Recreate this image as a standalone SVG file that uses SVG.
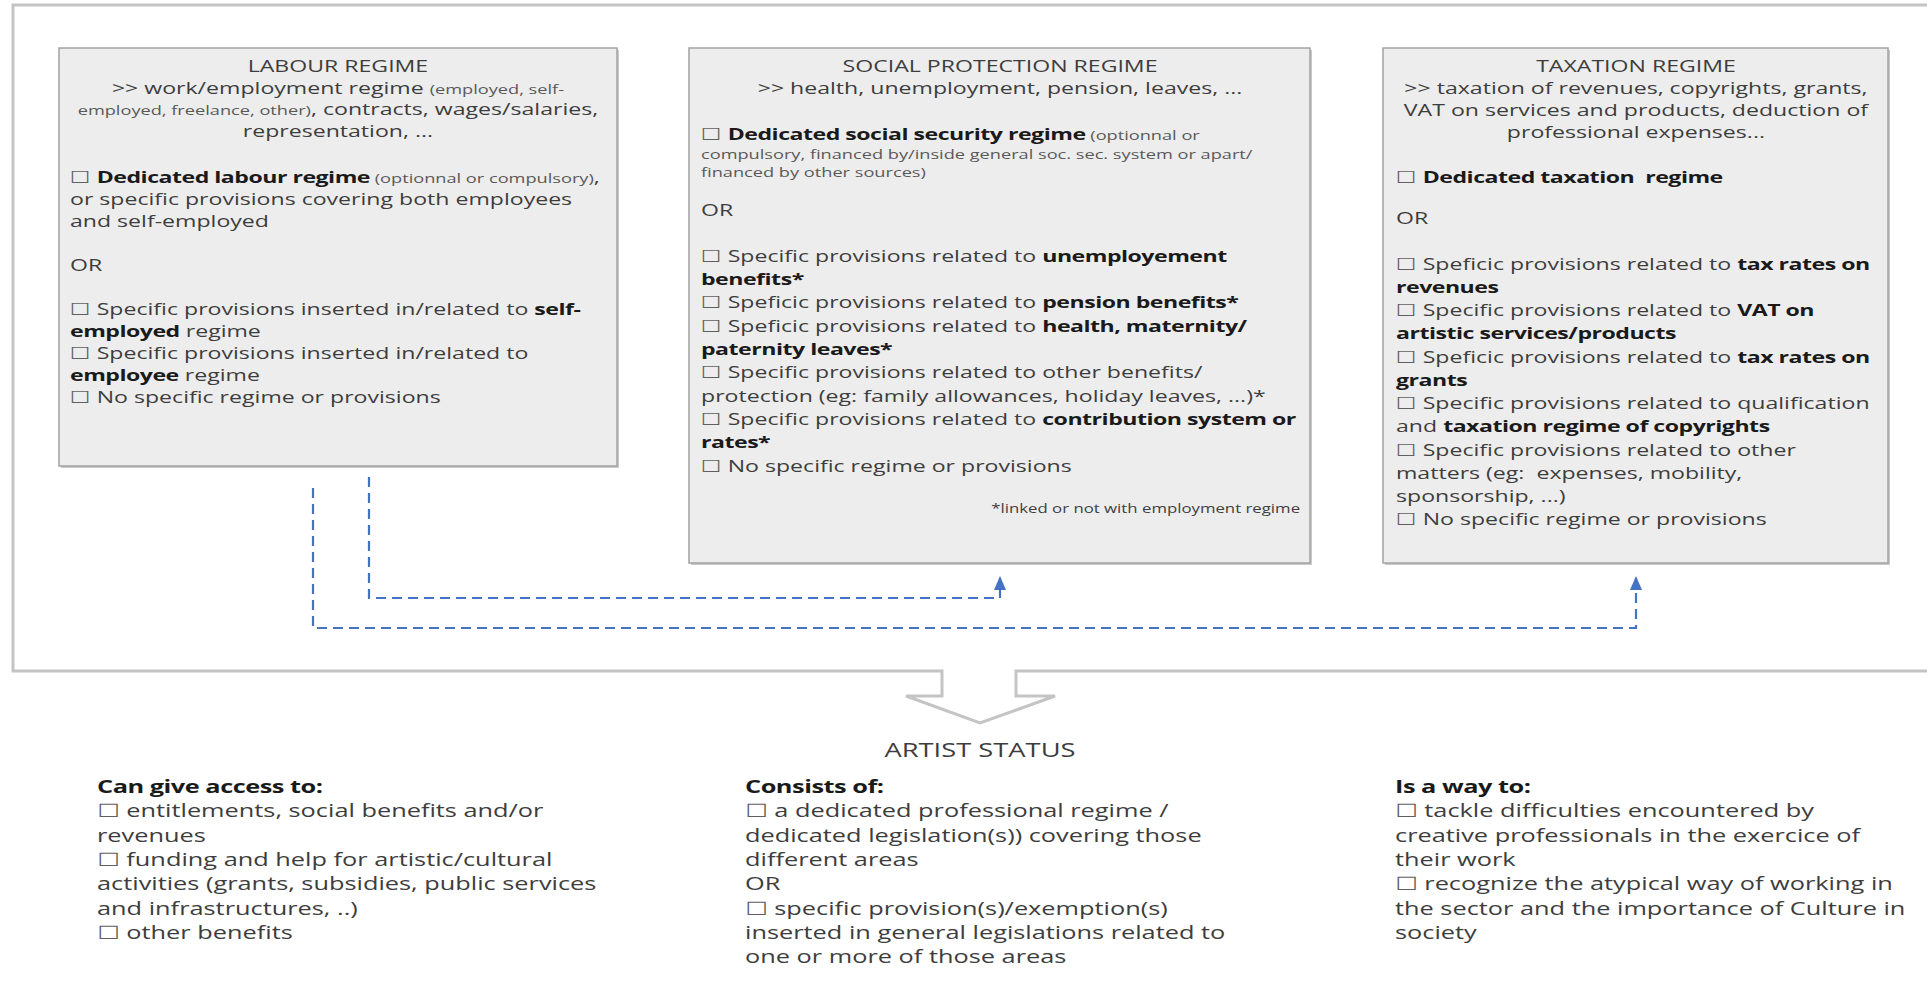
<svg xmlns="http://www.w3.org/2000/svg" width="1927" height="981" viewBox="0 0 1927 981">
<defs>
<style>
.t{font-family:"Open Sans","Liberation Sans",sans-serif;font-size:16.5px;fill:#3d3d3d;white-space:pre}
.b{font-weight:bold;fill:#1a1a1a;letter-spacing:-0.35px}
.s{font-size:13px;fill:#595959}
.cb{font-family:"DejaVu Sans",sans-serif;fill:#606060}
.bt{font-size:18.5px}
.fn{font-size:12px;fill:#404040}
.box{fill:#ededed;stroke:#a3a3a3;stroke-width:1.5}
.sh{fill:#c9c9c9}
.con{fill:none;stroke:#4472c4;stroke-width:2.2;stroke-dasharray:10 6}
</style>
<marker id="ah" markerUnits="userSpaceOnUse" markerWidth="16" markerHeight="16" refX="8" refY="2" orient="0" viewBox="0 0 16 16">
<path d="M8 0 L14 14 L2 14 Z" fill="#4472c4"/>
</marker>
</defs>
<rect width="1927" height="981" fill="#ffffff"/>

<g id="frame">
<path d="M942 671 L13 671 L13 5 L1940 5 L1940 671 L1016 671 L1016 696 L1055 696 L980 723 L906 696 L942 696 Z" fill="#ffffff" stroke="#c4c4c4" stroke-width="3"/>
</g>

<g id="labour">
<rect class="sh" x="61" y="50" width="558" height="418"/>
<rect class="box" x="59" y="48" width="558" height="418"/>
<g transform="translate(70 0) scale(1.4 1)">
<text class="t" x="191.4" y="72" text-anchor="middle">LABOUR REGIME</text>
<text class="t" x="191.4" y="94" text-anchor="middle">&gt;&gt; work/employment regime <tspan class="s">(employed, self-</tspan></text>
<text class="t" x="191.4" y="115" text-anchor="middle"><tspan class="s">employed, freelance, other)</tspan>, contracts, wages/salaries,</text>
<text class="t" x="191.4" y="137" text-anchor="middle">representation, ...</text>
<text class="t" x="0" y="183"><tspan class="cb">☐</tspan> <tspan class="b">Dedicated labour regime</tspan><tspan class="s"> (optionnal or compulsory)</tspan>,</text>
<text class="t" x="0" y="205">or specific provisions covering both employees</text>
<text class="t" x="0" y="227">and self-employed</text>
<text class="t" x="0" y="271">OR</text>
<text class="t" x="0" y="315"><tspan class="cb">☐</tspan> Specific provisions inserted in/related to <tspan class="b">self-</tspan></text>
<text class="t" x="0" y="337"><tspan class="b">employed</tspan> regime</text>
<text class="t" x="0" y="359"><tspan class="cb">☐</tspan> Specific provisions inserted in/related to</text>
<text class="t" x="0" y="381"><tspan class="b">employee</tspan> regime</text>
<text class="t" x="0" y="403"><tspan class="cb">☐</tspan> No specific regime or provisions</text>
</g>
</g>

<g id="social">
<rect class="sh" x="691" y="50" width="621" height="515"/>
<rect class="box" x="689" y="48" width="621" height="515"/>
<g transform="translate(701 0) scale(1.4 1)">
<text class="t" x="213.6" y="72" text-anchor="middle">SOCIAL PROTECTION REGIME</text>
<text class="t" x="213.6" y="94" text-anchor="middle">&gt;&gt; health, unemployment, pension, leaves, ...</text>
<text class="t" x="0" y="140"><tspan class="cb">☐</tspan> <tspan class="b">Dedicated social security regime</tspan><tspan class="s"> (optionnal or</tspan></text>
<text class="t s" x="0" y="159">compulsory, financed by/inside general soc. sec. system or apart/</text>
<text class="t s" x="0" y="177">financed by other sources)</text>
<text class="t" x="0" y="216">OR</text>
<text class="t" x="0" y="262"><tspan class="cb">☐</tspan> Specific provisions related to <tspan class="b">unemployement</tspan></text>
<text class="t" x="0" y="285"><tspan class="b">benefits*</tspan></text>
<text class="t" x="0" y="308"><tspan class="cb">☐</tspan> Speficic provisions related to <tspan class="b">pension benefits*</tspan></text>
<text class="t" x="0" y="332"><tspan class="cb">☐</tspan> Speficic provisions related to <tspan class="b">health, maternity/</tspan></text>
<text class="t" x="0" y="355"><tspan class="b">paternity leaves*</tspan></text>
<text class="t" x="0" y="378"><tspan class="cb">☐</tspan> Specific provisions related to other benefits/</text>
<text class="t" x="0" y="402">protection (eg: family allowances, holiday leaves, ...)*</text>
<text class="t" x="0" y="425"><tspan class="cb">☐</tspan> Specific provisions related to <tspan class="b">contribution system or</tspan></text>
<text class="t" x="0" y="448"><tspan class="b">rates*</tspan></text>
<text class="t" x="0" y="472"><tspan class="cb">☐</tspan> No specific regime or provisions</text>
<text class="t fn" x="427.9" y="513" text-anchor="end">*linked or not with employment regime</text>
</g>
</g>

<g id="taxation">
<rect class="sh" x="1385" y="50" width="505" height="515"/>
<rect class="box" x="1383" y="48" width="505" height="515"/>
<g transform="translate(1396 0) scale(1.4 1)">
<text class="t" x="171.4" y="72" text-anchor="middle">TAXATION REGIME</text>
<text class="t" x="171.4" y="94" text-anchor="middle">&gt;&gt; taxation of revenues, copyrights, grants,</text>
<text class="t" x="171.4" y="116" text-anchor="middle">VAT on services and products, deduction of</text>
<text class="t" x="171.4" y="138" text-anchor="middle">professional expenses...</text>
<text class="t" x="0" y="183"><tspan class="cb">☐</tspan> <tspan class="b">Dedicated taxation  regime</tspan></text>
<text class="t" x="0" y="224">OR</text>
<text class="t" x="0" y="270"><tspan class="cb">☐</tspan> Speficic provisions related to <tspan class="b">tax rates on</tspan></text>
<text class="t" x="0" y="293"><tspan class="b">revenues</tspan></text>
<text class="t" x="0" y="316"><tspan class="cb">☐</tspan> Specific provisions related to <tspan class="b">VAT on</tspan></text>
<text class="t" x="0" y="339"><tspan class="b">artistic services/products</tspan></text>
<text class="t" x="0" y="363"><tspan class="cb">☐</tspan> Speficic provisions related to <tspan class="b">tax rates on</tspan></text>
<text class="t" x="0" y="386"><tspan class="b">grants</tspan></text>
<text class="t" x="0" y="409"><tspan class="cb">☐</tspan> Specific provisions related to qualification</text>
<text class="t" x="0" y="432">and <tspan class="b">taxation regime of copyrights</tspan></text>
<text class="t" x="0" y="456"><tspan class="cb">☐</tspan> Specific provisions related to other</text>
<text class="t" x="0" y="479">matters (eg:  expenses, mobility,</text>
<text class="t" x="0" y="502">sponsorship, ...)</text>
<text class="t" x="0" y="525"><tspan class="cb">☐</tspan> No specific regime or provisions</text>
</g>
</g>

<g id="connectors">
<path class="con" d="M369 477 L369 598 L1000 598 L1000 578" marker-end="url(#ah)"/>
<path class="con" d="M313 488 L313 628 L1636 628 L1636 578" marker-end="url(#ah)"/>
</g>

<g id="artist-status">
<g transform="translate(980 0) scale(1.4 1)">
<text class="t" x="0" y="757" text-anchor="middle" style="font-size:19.5px">ARTIST STATUS</text>
</g>
</g>

<g id="access">
<g transform="translate(97 0) scale(1.37 1)">
<text class="t bt" x="0" y="793"><tspan class="b">Can give access to:</tspan></text>
<text class="t bt" x="0" y="817"><tspan class="cb">☐</tspan> entitlements, social benefits and/or</text>
<text class="t bt" x="0" y="842">revenues</text>
<text class="t bt" x="0" y="866"><tspan class="cb">☐</tspan> funding and help for artistic/cultural</text>
<text class="t bt" x="0" y="890">activities (grants, subsidies, public services</text>
<text class="t bt" x="0" y="915">and infrastructures, ..)</text>
<text class="t bt" x="0" y="939"><tspan class="cb">☐</tspan> other benefits</text>
</g>
</g>

<g id="consists">
<g transform="translate(745 0) scale(1.37 1)">
<text class="t bt" x="0" y="793"><tspan class="b">Consists of:</tspan></text>
<text class="t bt" x="0" y="817"><tspan class="cb">☐</tspan> a dedicated professional regime /</text>
<text class="t bt" x="0" y="842">dedicated legislation(s)) covering those</text>
<text class="t bt" x="0" y="866">different areas</text>
<text class="t bt" x="0" y="890">OR</text>
<text class="t bt" x="0" y="915"><tspan class="cb">☐</tspan> specific provision(s)/exemption(s)</text>
<text class="t bt" x="0" y="939">inserted in general legislations related to</text>
<text class="t bt" x="0" y="963">one or more of those areas</text>
</g>
</g>

<g id="way">
<g transform="translate(1395 0) scale(1.37 1)">
<text class="t bt" x="0" y="793"><tspan class="b">Is a way to:</tspan></text>
<text class="t bt" x="0" y="817"><tspan class="cb">☐</tspan> tackle difficulties encountered by</text>
<text class="t bt" x="0" y="842">creative professionals in the exercice of</text>
<text class="t bt" x="0" y="866">their work</text>
<text class="t bt" x="0" y="890"><tspan class="cb">☐</tspan> recognize the atypical way of working in</text>
<text class="t bt" x="0" y="915">the sector and the importance of Culture in</text>
<text class="t bt" x="0" y="939">society</text>
</g>
</g>
</svg>
